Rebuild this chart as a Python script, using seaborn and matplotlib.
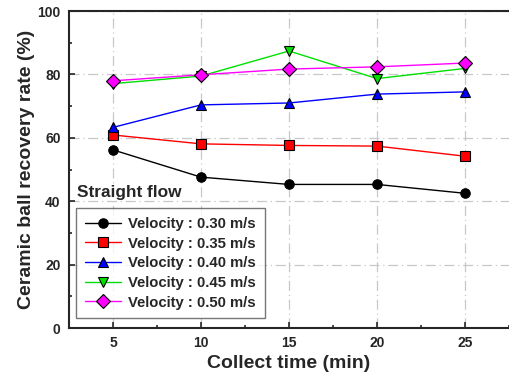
import pandas as pd
import numpy as np
import seaborn as sns
import matplotlib.pyplot as plt
from matplotlib.ticker import MultipleLocator

times = [5, 10, 15, 20, 25]
labels = ["Velocity : 0.30 m/s", "Velocity : 0.35 m/s", "Velocity : 0.40 m/s",
          "Velocity : 0.45 m/s", "Velocity : 0.50 m/s"]
v030 = [56.2, 47.6, 45.3, 45.3, 42.5]
v035 = [60.9, 58.1, 57.6, 57.4, 54.2]
v040 = [63.3, 70.4, 71.0, 73.8, 74.5]
v045 = [77.1, 79.5, 87.4, 78.7, 81.9]
v050 = [78.0, 79.9, 81.7, 82.4, 83.6]
colors = ["black", "red", "blue", "#00e000", "magenta"]
markers = ["o", "s", "^", "v", "D"]

rows = []
for lab, vals in zip(labels, [v030, v035, v040, v045, v050]):
    for t, v in zip(times, vals):
        rows.append({"time": t, "rate": v, "series": lab})
df = pd.DataFrame(rows)

sns.set_style("ticks")
plt.rcParams['font.family'] = ['Liberation Sans', 'DejaVu Sans']
plt.rcParams['font.weight'] = 'bold'

fig = plt.figure(figsize=(5.09, 3.83), dpi=100)
ax = fig.add_axes([0.1356, 0.1436, 0.8644, 0.8275])

sns.lineplot(data=df, x="time", y="rate", hue="series", style="series",
             palette=colors, markers=markers, dashes=False, markersize=6.8,
             markeredgecolor="black", markeredgewidth=0.8, linewidth=1.0, ax=ax)

ax.set_xlim(2.5, 27.5)
ax.set_ylim(0, 100)
ax.xaxis.set_major_locator(MultipleLocator(5))
ax.xaxis.set_minor_locator(MultipleLocator(2.5))
ax.yaxis.set_major_locator(MultipleLocator(20))
ax.yaxis.set_minor_locator(MultipleLocator(10))
ax.tick_params(which='both', direction='in', width=1.2)
ax.tick_params(which='major', length=4, labelsize=10, pad=6)
ax.tick_params(which='minor', length=2.5)
for lbl in ax.get_xticklabels() + ax.get_yticklabels():
    lbl.set_fontweight('bold')
ax.grid(True, which='major', color='#c8c8c8', linestyle=(0, (8, 3, 1, 3)), linewidth=0.9)
for s in ax.spines.values():
    s.set_linewidth(1.5)
ax.spines['right'].set_visible(False)

ax.set_xlabel("Collect time (min)", fontsize=14, fontweight='bold', labelpad=3)
ax.set_ylabel("Ceramic ball recovery rate (%)", fontsize=14, fontweight='bold', labelpad=2)

ax.text(2.95, 42.8, "Straight flow", fontsize=12.4, fontweight='bold', va='center')
leg = ax.legend(loc='lower left', bbox_to_anchor=(0.016, 0.03), fontsize=10.75,
                frameon=True, fancybox=False, edgecolor='#555555', handlelength=2.4,
                handletextpad=0.5, labelspacing=0.38, borderpad=0.6, borderaxespad=0)
leg.get_frame().set_linewidth(1.0)
for t in leg.get_texts():
    t.set_fontweight('bold')

plt.savefig("out.png", dpi=100)
